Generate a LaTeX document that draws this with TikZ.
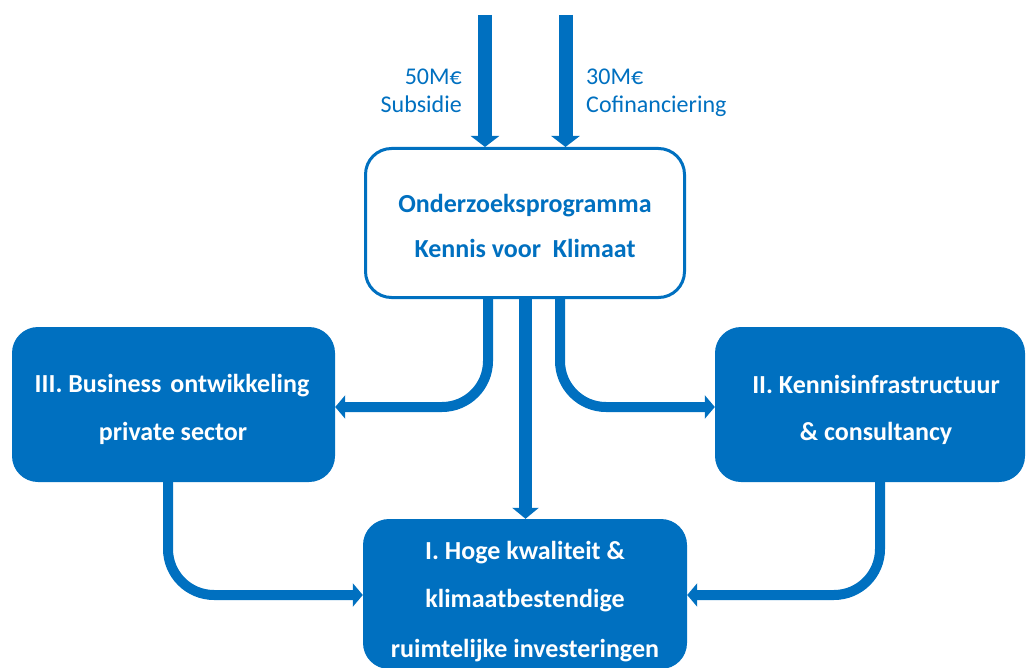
\documentclass[tikz,border=0pt]{standalone}
\usepackage{fontspec}
\setmainfont{Carlito}
\usetikzlibrary{arrows.meta}
\definecolor{kblue}{RGB}{0,112,192}
\begin{document}
\begin{tikzpicture}[x=1pt,y=-1pt,
  bluebox/.style={draw=none,fill=kblue,rounded corners=26pt,inner sep=0pt},
  whitebox/.style={draw=kblue,fill=white,line width=3pt,rounded corners=26pt,inner sep=0pt},
  boxtext/.style={font=\fontsize{26}{30}\selectfont\bfseries,inner sep=0pt,anchor=base},
  labeltext/.style={font=\fontsize{24}{28}\selectfont,text=kblue,inner sep=0pt},
  conn/.style={draw=kblue,line width=10pt,rounded corners=46pt,-{Triangle[width=23pt,length=10pt]}},
  bigconn/.style={draw=kblue,line width=14pt,-{Triangle[width=28pt,length=11pt]}},
  midconn/.style={draw=kblue,line width=13pt,-{Triangle[width=26pt,length=11pt]}}
]
\useasboundingbox (0,0) rectangle (1027,668);

% boxes
\node[whitebox,minimum width=319pt,minimum height=149pt] (top) at (525,223) {};
\node[bluebox,minimum width=323pt,minimum height=155pt] (III) at (173.5,404.5) {};
\node[bluebox,minimum width=310pt,minimum height=155pt] (II) at (870,404.5) {};
\node[bluebox,minimum width=324pt,minimum height=150pt] (I) at (525,594) {};

% texts
\node[boxtext,text=kblue] (t1) at (525,213) {Onderzoeksprogramma};
\node[boxtext,text=kblue] (t2) at (525,258) {Kennis voor\ \ Klimaat};
\node[boxtext,text=white] (t3) at (172,392) {III. Business\hspace{9pt}ontwikkeling};
\node[boxtext,text=white] (t4) at (173,440) {private sector};
\node[boxtext,text=white] (t5) at (876,393) {II. Kennisinfrastructuur};
\node[boxtext,text=white] (t6) at (876,440) {\& consultancy};
\node[boxtext,text=white] (t7) at (525,559) {I. Hoge\ kwaliteit \&};
\node[boxtext,text=white] (t8) at (525,607) {klimaatbestendige};
\node[boxtext,text=white] (t9) at (525,657) {ruimtelijke investeringen};

% labels
\node[labeltext,anchor=base east] (l1) at (462,85) {50M€};
\node[labeltext,anchor=base east] (l2) at (462,113) {Subsidie};
\node[labeltext,anchor=base west] (l3) at (586,85) {30M€};
\node[labeltext,anchor=base west] (l4) at (586,113) {Cofinanciering};

% incoming arrows
\coordinate (s1) at (485,15);
\coordinate (s2) at (565.5,15);
\draw[bigconn] (s1) -- (s1 |- top.north);
\draw[bigconn] (s2) -- (s2 |- top.north);

% outgoing connectors
\coordinate (o1) at (488,299);
\coordinate (o2) at (525.5,299);
\coordinate (o3) at (560,299);
\coordinate (h1) at (0,407);
\draw[conn] (o1) |- (III.east |- h1);
\draw[conn] (o3) |- (II.west |- h1);
\draw[midconn] (o2) -- (o2 |- I.north);

% lower connectors
\coordinate (d1) at (168,482);
\coordinate (d2) at (880,482);
\coordinate (h2) at (0,595);
\draw[conn] (d1) |- (I.west |- h2);
\draw[conn] (d2) |- (I.east |- h2);
\end{tikzpicture}
\end{document}
